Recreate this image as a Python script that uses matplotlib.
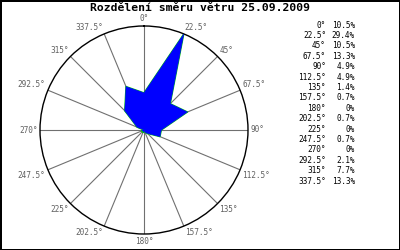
import numpy as np
import matplotlib
matplotlib.use("Agg")
import matplotlib.pyplot as plt

# smery vetru a podil v procentech
smery = [0, 22.5, 45, 67.5, 90, 112.5, 135, 157.5, 180, 202.5, 225, 247.5, 270, 292.5, 315, 337.5]
podily = [10.5, 29.4, 10.5, 13.3, 4.9, 4.9, 1.4, 0.7, 0, 0.7, 0, 0.7, 0, 2.1, 7.7, 13.3]
titulek = "Rozdělení směru větru 25.09.2009"

plt.rcParams['font.family'] = ['DejaVu Sans Mono']

fig = plt.figure(figsize=(4, 2.5), dpi=100)
fig.patch.set_facecolor('white')
fig.patch.set_edgecolor('black')
fig.patch.set_linewidth(2)

ax = fig.add_axes([0.1, 0.064, 0.52, 0.832], projection='polar')
ax.set_theta_zero_location('N')
ax.set_theta_direction(-1)
rmax = max(podily)
ax.set_ylim(0, rmax)
ax.set_xticks([])
ax.set_yticks([])
ax.grid(False)
ax.spines['polar'].set_color('black')
ax.spines['polar'].set_linewidth(1)

theta = np.deg2rad(smery)

# paprsky
for t in theta:
    ax.plot([t, t], [0, rmax], color='#707070', lw=0.8, zorder=1)

# popisky smeru
for d, t in zip(smery, theta):
    if d == 0 or d == 180:
        ha = 'center'
    elif d < 180:
        ha = 'left'
    else:
        ha = 'right'
    if d == 90 or d == 270:
        va = 'center'
    elif d < 90 or d > 270:
        va = 'bottom'
    else:
        va = 'top'
    ax.text(t, rmax * 1.025, f"{d:g}°", ha=ha, va=va, fontsize=5.6,
            color='#606060', clip_on=False)

# ruzice
tt = np.append(theta, theta[0])
rr = np.append(podily, podily[0])
ax.plot(tt, rr, color='#00cc00', lw=1.0, zorder=2)
ax.fill(tt, rr, facecolor='#0000ff', edgecolor='#0000ff', lw=0.3, zorder=3)

fig.text(0.5, 0.968, titulek, ha='center', va='center', fontsize=8.2,
         fontweight='bold', color='black')

# tabulka vpravo
for i, (d, p) in enumerate(zip(smery, podily)):
    y = 1 - (25 + 10.4 * i) / 250
    fig.text(326 / 400, y, f"{d:g}°", ha='right', va='center', fontsize=5.6, color='black')
    fig.text(355 / 400, y, f"{p:g}%", ha='right', va='center', fontsize=5.6, color='black')

fig.savefig("out.png", dpi=100)
